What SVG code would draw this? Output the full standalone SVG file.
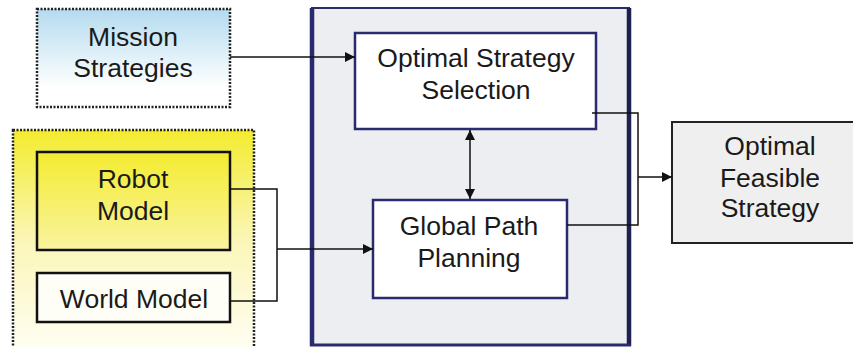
<svg xmlns="http://www.w3.org/2000/svg" width="853" height="347" viewBox="0 0 853 347">
<defs>
<linearGradient id="gBlue" x1="0" y1="0" x2="0" y2="1">
<stop offset="0" stop-color="#b4dbef"/>
<stop offset="0.8" stop-color="#ffffff"/>
</linearGradient>
<linearGradient id="gYellow" x1="0" y1="0" x2="0" y2="1">
<stop offset="0" stop-color="#f3ec2e"/>
<stop offset="0.5" stop-color="#fbf6b8"/>
<stop offset="1" stop-color="#fffef4"/>
</linearGradient>
<linearGradient id="gRobot" x1="0" y1="0" x2="0" y2="1">
<stop offset="0" stop-color="#f4ec30"/>
<stop offset="1" stop-color="#f9f3a0"/>
</linearGradient>
<marker id="arr" viewBox="0 0 10 10" refX="10" refY="5" markerWidth="10" markerHeight="10" markerUnits="userSpaceOnUse" orient="auto-start-reverse">
<path d="M0,0 L10,5 L0,10 z" fill="#111"/>
</marker>
<style>
text{font-family:"Liberation Sans",Arial,sans-serif;font-size:26.5px;fill:#1a1a1a;text-anchor:middle}
.dot{stroke:#222;stroke-width:2.5;stroke-dasharray:2 1.5}
.blk{stroke:#111;stroke-width:2.5}
.navy{fill:#ffffff;stroke:#2a2a6e;stroke-width:2.5}
.ln{fill:none;stroke:#111;stroke-width:1.5}
</style>
</defs>

<g id="mission">
<rect x="37" y="9" width="193" height="98" fill="url(#gBlue)" class="dot"/>
<text x="133" y="46">Mission</text>
<text x="133" y="77">Strategies</text>
</g>

<g id="models-group">
<rect x="13" y="130" width="241" height="222" fill="url(#gYellow)" class="dot"/>
</g>

<g id="robot">
<rect x="37" y="152" width="193" height="98" fill="url(#gRobot)" class="blk"/>
<text x="133" y="188">Robot</text>
<text x="133" y="220">Model</text>
</g>

<g id="world">
<rect x="37" y="273" width="193" height="49" fill="#fffef6" class="blk"/>
<text x="134" y="308">World Model</text>
</g>

<g id="planner">
<rect x="312" y="8" width="317" height="337" fill="#eceef1" stroke="#2a2a6e" stroke-width="2"/>
<line x1="312" y1="8" x2="312" y2="346" stroke="#2a2a6e" stroke-width="4.5"/>
<line x1="629" y1="8" x2="629" y2="346" stroke="#1e2050" stroke-width="4.5"/>
<line x1="310" y1="345" x2="631" y2="345" stroke="#2a2a6e" stroke-width="3"/>
</g>

<g id="selection">
<rect x="355" y="33" width="241" height="96" class="navy"/>
<text x="476" y="67">Optimal Strategy</text>
<text x="476" y="99">Selection</text>
</g>

<g id="global">
<rect x="373" y="200" width="194" height="98" class="navy"/>
<text x="469" y="235">Global Path</text>
<text x="469" y="267">Planning</text>
</g>

<g id="feasible">
<rect x="672" y="122" width="200" height="121" fill="#efefef" stroke="#222" stroke-width="2"/>
<text x="770" y="155">Optimal</text>
<text x="770" y="187">Feasible</text>
<text x="770" y="217">Strategy</text>
</g>

<g id="connectors">
<line x1="230" y1="57" x2="355" y2="57" class="ln" marker-end="url(#arr)"/>
<polyline points="230,189 277,189 277,301 230,301" class="ln"/>
<line x1="277" y1="249" x2="373" y2="249" class="ln" marker-end="url(#arr)"/>
<line x1="470" y1="130" x2="470" y2="199" class="ln" marker-start="url(#arr)" marker-end="url(#arr)"/>
<polyline points="592,113 638,113 638,225 567,225" class="ln"/>
<line x1="638" y1="177" x2="672" y2="177" class="ln" marker-end="url(#arr)"/>
</g>
</svg>
